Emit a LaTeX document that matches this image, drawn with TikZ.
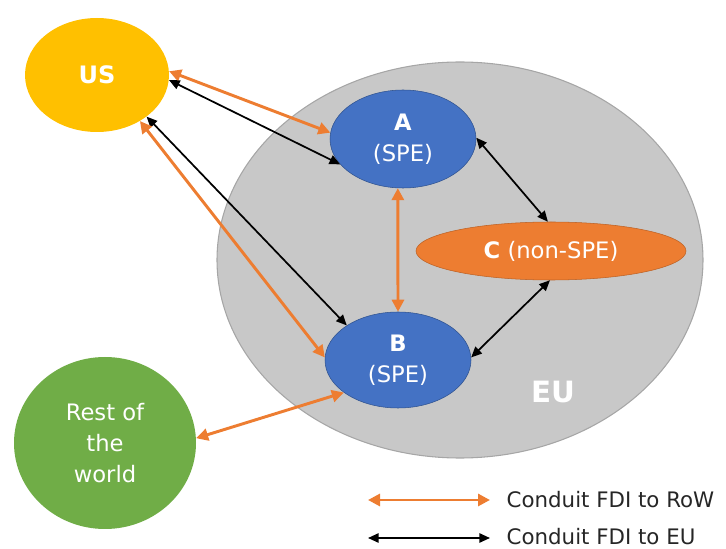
\documentclass[tikz,border=0pt]{standalone}
\usepackage{fontspec}
\setmainfont{DejaVu Sans}
\usetikzlibrary{shapes.geometric,arrows.meta}

\newlength{\du}
\setlength{\du}{0.75pt}

\definecolor{usyellow}{rgb}{1.000000, 0.752941, 0.000000}
\definecolor{speblue}{rgb}{0.266667, 0.447059, 0.768627}
\definecolor{speblueline}{rgb}{0.184314, 0.321569, 0.560784}
\definecolor{conduitorange}{rgb}{0.929412, 0.490196, 0.192157}
\definecolor{conduitorangeline}{rgb}{0.741176, 0.380392, 0.141176}
\definecolor{rowgreen}{rgb}{0.439216, 0.678431, 0.278431}
\definecolor{eugray}{rgb}{0.784314, 0.784314, 0.784314}
\definecolor{eugrayline}{rgb}{0.650980, 0.650980, 0.650980}
\definecolor{legendtext}{rgb}{0.149020, 0.149020, 0.149020}

\tikzset{
  blob/.style={ellipse, inner sep=0pt, align=center, text=white,
    font=\fontsize{17}{23}\selectfont},
  rowarrow/.style={draw=conduitorange, line width=2.2pt,
    {Triangle[length=9pt,width=9pt]}-{Triangle[length=9pt,width=9pt]}},
  euarrow/.style={draw=black, line width=1.3pt,
    {Triangle[length=8pt,width=7pt]}-{Triangle[length=8pt,width=7pt]}}
}

\begin{document}
\begin{tikzpicture}
\pgftransformxscale{1.000000}
\pgftransformyscale{-1.000000}
\useasboundingbox (0\du,0\du) rectangle (726\du,549\du);
% the EU
\node[ellipse, draw=eugrayline, fill=eugray, line width=0.8pt,
  minimum width=486\du, minimum height=396\du] (eu) at (460\du,260\du) {};
\node[font=\fontsize{22}{26}\selectfont\bfseries, text=white] (eulabel) at (553\du,392\du) {EU};
% the countries
\node[blob, fill=usyellow, minimum width=144\du, minimum height=114\du,
  font=\fontsize{18}{22}\selectfont\bfseries] (us) at (97\du,75\du) {US};
\node[blob, fill=rowgreen, minimum width=182\du, minimum height=172\du] (row) at (105\du,443\du) {Rest of\\the\\world};
% the entities
\node[blob, fill=speblue, draw=speblueline, minimum width=146\du, minimum height=98\du] (a) at (403\du,139\du) {\textbf{A}\\(SPE)};
\node[blob, fill=speblue, draw=speblueline, minimum width=146\du, minimum height=96\du] (b) at (398\du,360\du) {\textbf{B}\\(SPE)};
\node[blob, fill=conduitorange, draw=conduitorangeline, minimum width=270\du, minimum height=58\du] (c) at (551\du,251\du) {\textbf{C} (non-SPE)};
% conduits
\draw[rowarrow] (us.3) -- (a.175);
\draw[euarrow] (us.-4) -- (a.202);
\draw[euarrow] (us.-40) -- (b.146);
\draw[rowarrow] (us.-47) -- (b.178);
\draw[rowarrow] (a.-96) -- (b.90);
\draw[euarrow] (a.1) -- (c.96);
\draw[euarrow] (b.2) -- (c.-92);
\draw[rowarrow] (row.3) -- (b.211);
% legend
\coordinate (legrowl) at (368\du,500\du);
\coordinate (legrowr) at (490\du,500\du);
\coordinate (legeul) at (368\du,538\du);
\coordinate (legeur) at (490\du,538\du);
\draw[rowarrow] (legrowl) -- (legrowr);
\draw[euarrow] (legeul) -- (legeur);
\node[anchor=west, text=legendtext, font=\fontsize{16}{19}\selectfont] (legrow) at (502\du,500\du) {Conduit FDI to RoW};
\node[anchor=west, text=legendtext, font=\fontsize{16}{19}\selectfont] (legeu) at (502\du,537\du) {Conduit FDI to EU};
\end{tikzpicture}
\end{document}
